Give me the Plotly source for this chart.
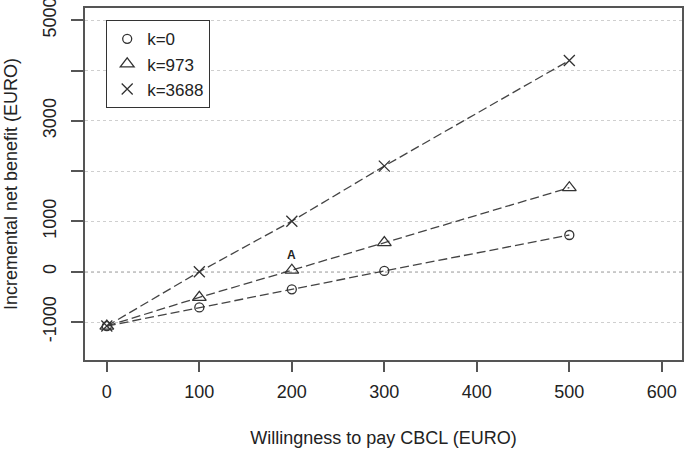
import plotly.graph_objects as go

wtp = [0, 100, 200, 300, 500]
inb_k0 = [-1080, -710, -350, 15, 730]
inb_k973 = [-1080, -510, 30, 580, 1670]
inb_k3688 = [-1080, 0, 1005, 2100, 4200]

series_names = ["k=0", "k=973", "k=3688"]
symbols = ["circle-open", "triangle-up-open", "x-thin-open"]
sizes = [9, 12, 11]

y_tickvals = [-1000, 0, 1000, 2000, 3000, 4000, 5000]
y_ticktext = ["-1000", "0", "1000", "", "3000", "", "5000"]
x_tickvals = [0, 100, 200, 300, 400, 500, 600]

annot_x, annot_y, annot_text = 200, 330, "A"

ink = "#333333"
font = "Liberation Sans, Arial, sans-serif"

fig = go.Figure()
all_series = [inb_k0, inb_k973, inb_k3688]
for vals in all_series:
    fig.add_trace(go.Scatter(
        x=wtp, y=vals, mode="lines", showlegend=False, hoverinfo="skip",
        line=dict(color="#444444", width=1.3, dash="9px,4px"),
    ))
for name, vals, sym, sz in zip(series_names, all_series, symbols, sizes):
    fig.add_trace(go.Scatter(
        x=wtp, y=vals, mode="markers", name=name,
        marker=dict(symbol=sym, size=sz, color=ink, line=dict(color=ink, width=1.3)),
    ))

fig.add_shape(type="line", xref="paper", yref="y", x0=0, x1=1, y0=0, y1=0,
              line=dict(color="#222222", width=1.2, dash="dot"), layer="below")

fig.add_annotation(x=annot_x, y=annot_y, text="<b>" + annot_text + "</b>", showarrow=False,
                   font=dict(size=12, color="#222222", family=font))

fig.update_layout(
    width=685, height=450,
    margin=dict(l=85, r=3, t=8, b=90),
    paper_bgcolor="white", plot_bgcolor="white",
    font=dict(family=font, size=18, color="#222222"),
    legend=dict(x=0.035, y=0.966, xanchor="left", yanchor="top",
                bordercolor="#333333", borderwidth=1.3, bgcolor="white",
                font=dict(size=17), tracegroupgap=0, itemwidth=30),
    showlegend=True,
)
fig.update_xaxes(
    range=[-23.6, 621.8], tickvals=x_tickvals, ticks="outside", ticklen=10,
    tickcolor="#555555", tickwidth=1.5, showgrid=False, zeroline=False,
    showline=True, linecolor="#555555", linewidth=1.5, mirror=True,
    ticklabelstandoff=5, automargin=False, ticklabeloverflow="allow",
    title=dict(text="Willingness to pay CBCL (EURO)", standoff=30, font=dict(size=18)),
)
fig.update_yaxes(
    range=[-1755, 5243], tickvals=y_tickvals, ticktext=y_ticktext, tickangle=-90,
    ticks="outside", ticklen=12, tickcolor="#555555", tickwidth=1.5,
    showgrid=True, gridcolor="#cfcfcf", griddash="dot", gridwidth=1,
    zeroline=False, showline=True, linecolor="#555555", linewidth=1.5, mirror=True,
    ticklabelstandoff=8, automargin=False, ticklabeloverflow="allow",
    title=dict(text="Incremental net benefit (EURO)", standoff=18, font=dict(size=18)),
)

fig.write_html(
    "out.html",
    config={"displayModeBar": False},
    post_script="document.body.style.margin='0';document.body.style.padding='0';"
                "document.body.style.overflow='hidden';",
)
